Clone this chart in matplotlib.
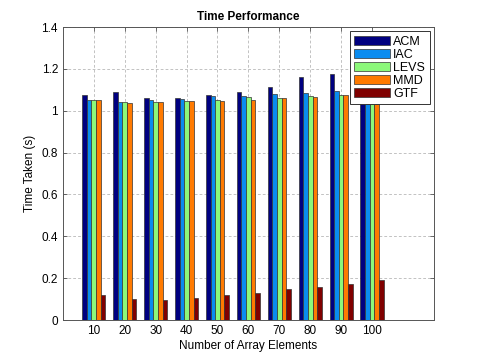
import matplotlib
matplotlib.use("Agg")
import matplotlib.pyplot as plt
import numpy as np

plt.rcParams['font.family'] = ['Liberation Sans', 'DejaVu Sans']

categories = ["10", "20", "30", "40", "50", "60", "70", "80", "90", "100"]
series_names = ["ACM", "IAC", "LEVS", "MMD", "GTF"]
acm  = [1.076, 1.088, 1.061, 1.062, 1.076, 1.089, 1.113, 1.160, 1.175, 1.19]
iac  = [1.050, 1.042, 1.051, 1.056, 1.069, 1.070, 1.078, 1.086, 1.094, 1.10]
levs = [1.050, 1.042, 1.043, 1.045, 1.050, 1.067, 1.059, 1.069, 1.075, 1.08]
mmd  = [1.050, 1.037, 1.043, 1.045, 1.047, 1.052, 1.059, 1.065, 1.075, 1.08]
gtf  = [0.119, 0.100, 0.097, 0.107, 0.119, 0.130, 0.147, 0.158, 0.174, 0.191]
colors = ["#000080", "#0a8cf0", "#8cf87a", "#ff7a00", "#800000"]
yticks = [0, 0.2, 0.4, 0.6, 0.8, 1.0, 1.2, 1.4]
ytick_labels = ["0", "0.2", "0.4", "0.6", "0.8", "1", "1.2", "1.4"]

data = [acm, iac, levs, mmd, gtf]

fig = plt.figure(figsize=(4.8, 3.6), dpi=100)
ax = fig.add_axes([0.131, 0.111, 0.773, 0.814])

x = np.arange(1, len(categories) + 1)
n = len(data)
bw = 0.15
for i, (vals, name, c) in enumerate(zip(data, series_names, colors)):
    offs = (i - (n - 1) / 2) * bw
    ax.bar(x + offs, vals, width=bw, color=c, edgecolor="#333333",
           linewidth=0.5, label=name, zorder=3)

ax.set_xlim(0, 12)
ax.set_ylim(0, 1.4)
ax.set_xticks(x)
ax.set_xticklabels(categories, fontsize=8.5)
ax.set_yticks(yticks)
ax.set_yticklabels(ytick_labels, fontsize=8.5)
ax.tick_params(direction="in", top=True, right=True, length=3, width=0.5, colors="#333333")
ax.tick_params(labelcolor="black")
ax.grid(True, linestyle=(0, (4, 3)), color="#aaaaaa", linewidth=0.5, zorder=0)
ax.set_axisbelow(True)
for s in ax.spines.values():
    s.set_color("#555555")
    s.set_linewidth(0.7)

ax.set_xlabel("Number of Array Elements", fontsize=8.5, labelpad=2)
ax.set_ylabel("Time Taken (s)", fontsize=8.5)
ax.set_title("Time Performance", fontsize=8.5, fontweight="bold", pad=5)

leg = ax.legend(loc="upper right", prop={"size": 9}, fancybox=False, framealpha=1,
                edgecolor="#333333", handlelength=2.9, handleheight=0.75,
                borderaxespad=0.35, labelspacing=0.08, handletextpad=0.25,
                borderpad=0.35)
leg.get_frame().set_linewidth(0.7)

fig.savefig("out.png", dpi=100, facecolor="white")
